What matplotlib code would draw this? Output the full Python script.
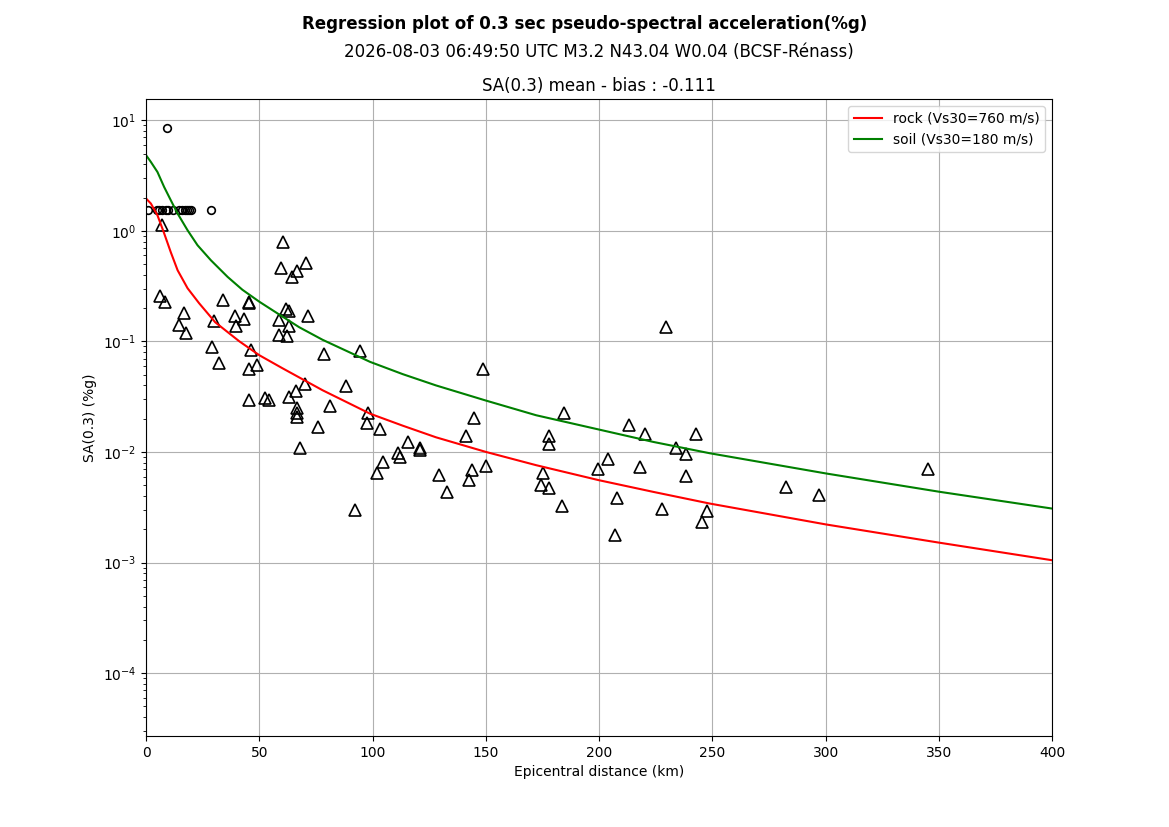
import matplotlib as mpl
mpl.use('Agg')

import matplotlib.pyplot as plt

# model curves (distance km, SA %g)
rock_dist = [0, 2.1, 5.0, 7.95, 10.9, 13.9, 18.3, 23.4, 30.5, 41.1, 50, 60.2, 77.9,
             98.9, 113.3, 128, 150, 172.2, 199.9, 223.9, 248.8, 300.3, 350.5, 400]
rock_sa = [1.959, 1.766, 1.384, 0.951, 0.640, 0.4403, 0.3027, 0.2215, 0.1491, 0.1004,
           0.0750, 0.0572, 0.0362, 0.0222, 0.0173, 0.01358, 0.01002, 0.00760, 0.00556,
           0.00436, 0.00342, 0.00221, 0.00151, 0.00105]

soil_dist = [0, 2.1, 5.0, 7.95, 10.9, 13.9, 18.3, 22.7, 28.6, 36.0, 42.5, 50, 58.8,
             67.6, 77.9, 98.9, 113.3, 128, 150, 172.2, 199.9, 223.9, 248.8, 300.3,
             350.5, 400]
soil_sa = [4.826, 4.198, 3.408, 2.494, 1.891, 1.434, 1.012, 0.741, 0.542, 0.383,
           0.2934, 0.2285, 0.1750, 0.1344, 0.1035, 0.0653, 0.0506, 0.0400, 0.0292,
           0.0215, 0.01597, 0.01234, 0.00975, 0.00639, 0.00436, 0.00308]

# circles
circ_dist = [0.9, 4.7, 5.7, 7.2, 8.7, 9.7, 12.0, 14.6, 16.0, 17.1, 18.0, 19.0, 19.7, 28.5, 9.3]
circ_sa = [1.53] * 14 + [8.47]

# triangles
tri_dist = [6.8, 6.1, 8.5, 16.8, 14.6, 17.8, 34.0, 30.1, 39.3, 39.5, 43.0, 45.2, 45.5,
            28.9, 32.3, 46.5, 45.2, 48.8, 45.5, 52.6, 54.1,
            60.6, 59.7, 66.4, 64.2, 70.8, 61.7, 63.2, 58.8, 62.9, 71.3, 58.5, 62.2,
            78.5, 94.4, 88.1, 70.0, 66.3, 63.2, 66.4, 66.7, 66.4, 75.9, 81.3, 67.8, 92.2,
            98.0, 97.4, 103.2, 104.4, 102.0, 115.8, 111.1, 112.3, 120.7, 120.8, 129.3, 132.9,
            148.9, 144.7, 141.1, 143.8, 142.5, 149.9,
            184.3, 177.8, 177.8, 175.2, 174.4, 177.8, 183.4,
            199.6, 203.8, 208.0, 207.0, 213.1, 220.2, 218.1, 229.4, 233.8, 238.2, 238.2,
            242.7, 227.6, 247.7, 245.4, 282.3, 297.2, 345.3]
tri_sa = [1.12, 0.256, 0.226, 0.181, 0.140, 0.118, 0.236, 0.152, 0.170, 0.138, 0.160, 0.226, 0.222,
          0.0891, 0.0644, 0.0832, 0.0569, 0.0618, 0.0294, 0.0308, 0.0294,
          0.794, 0.463, 0.434, 0.379, 0.513, 0.198, 0.187, 0.156, 0.137, 0.169, 0.114, 0.111,
          0.0766, 0.082, 0.0399, 0.041, 0.0357, 0.0315, 0.0252, 0.0225, 0.0207, 0.0169, 0.0261, 0.0109, 0.00302,
          0.0223, 0.0183, 0.0162, 0.00813, 0.00647, 0.0122, 0.0097, 0.0090, 0.0108, 0.0104, 0.00617, 0.00436,
          0.0569, 0.0205, 0.0141, 0.00684, 0.00556, 0.00748,
          0.0226, 0.0140, 0.0118, 0.00647, 0.00508, 0.00468, 0.00326,
          0.00695, 0.00873, 0.00380, 0.00179, 0.0177, 0.0147, 0.00725, 0.134, 0.0109, 0.00968, 0.00604,
          0.0144, 0.00308, 0.00292, 0.00231, 0.00483, 0.00406, 0.00695]

fig, ax = plt.subplots(figsize=(11.69, 8.27), dpi=100)

ax.plot(circ_dist, circ_sa, linestyle='none', marker='o', markersize=5.5,
        markerfacecolor='none', markeredgecolor='k', markeredgewidth=1.2)
ax.plot(tri_dist, tri_sa, linestyle='none', marker='^', markersize=8,
        markerfacecolor='none', markeredgecolor='k', markeredgewidth=1.2)
ax.plot(rock_dist, rock_sa, color='red', linewidth=1.5, label='rock (Vs30=760 m/s)')
ax.plot(soil_dist, soil_sa, color='green', linewidth=1.5, label='soil (Vs30=180 m/s)')

ax.set_yscale('log')
ax.set_xlim(0, 400)
ax.set_ylim(2.7e-5, 15.5)
ax.grid(True, which='major')
ax.set_xlabel('Epicentral distance (km)')
ax.set_ylabel('SA(0.3) (%g)')
ax.legend(loc='upper right')

fig.suptitle('Regression plot of 0.3 sec pseudo-spectral acceleration(%g)',
             fontweight='bold', fontsize=12, y=0.982)
ax.text(0.5, 1.074, '2026-08-03 06:49:50 UTC M3.2 N43.04 W0.04 (BCSF-R\u00e9nass)',
        transform=ax.transAxes, ha='center', va='center', fontsize=12)
ax.set_title('SA(0.3) mean - bias : -0.111', fontsize=12)

fig.savefig('out.png', dpi=100)
